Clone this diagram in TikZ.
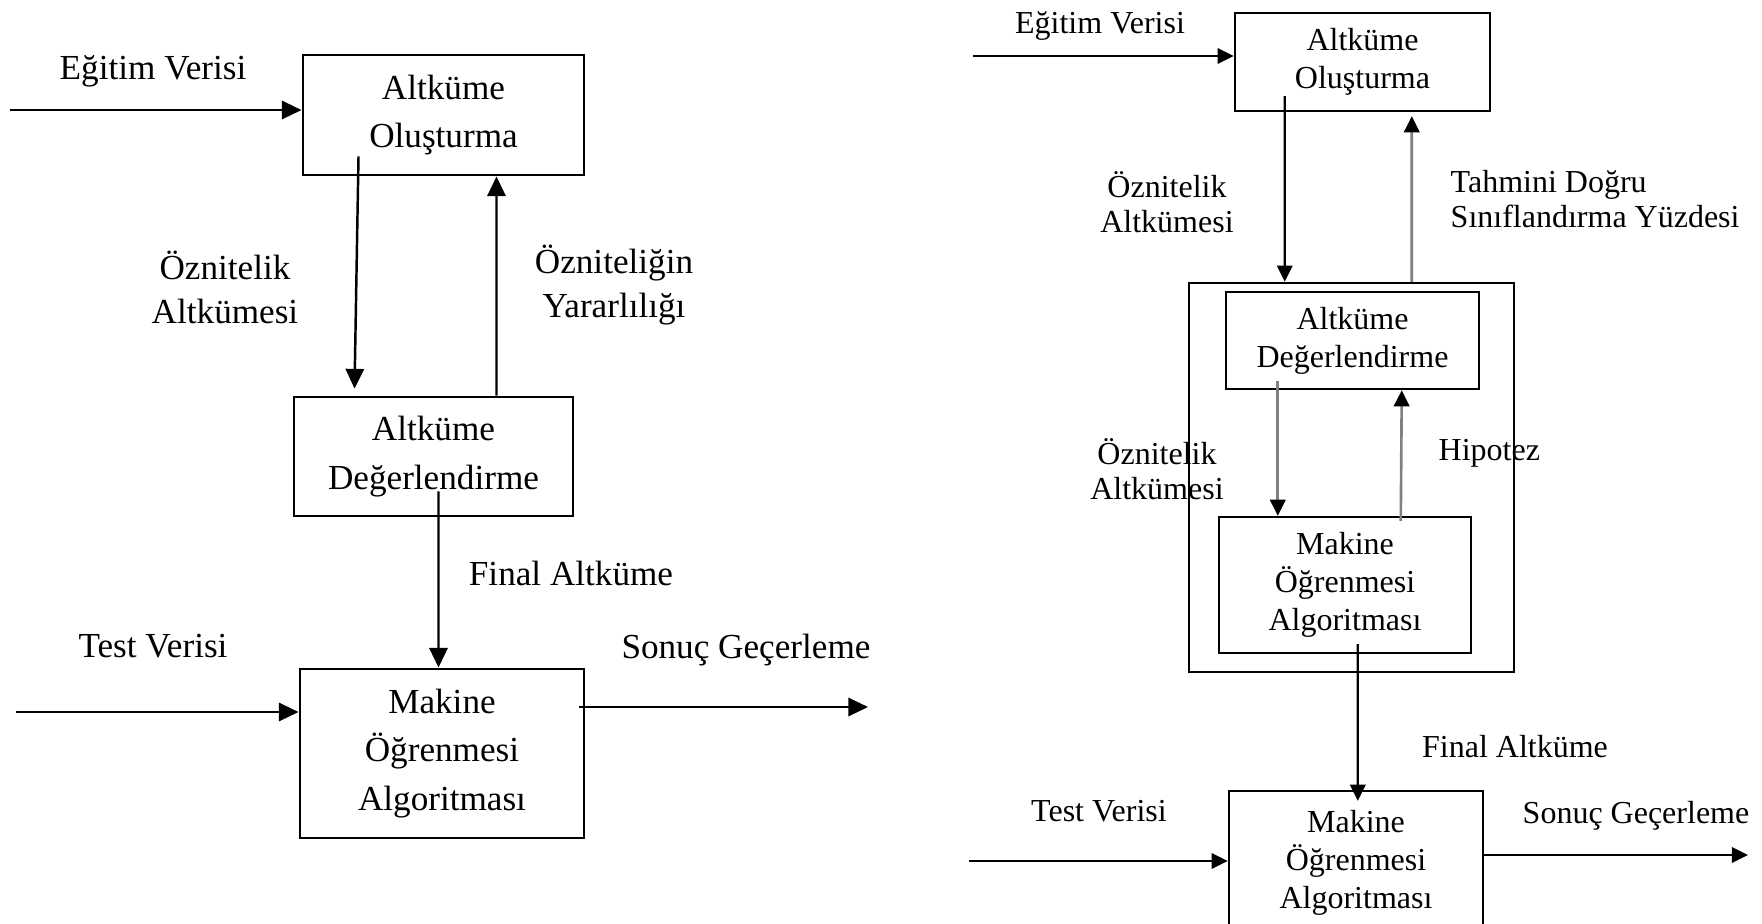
\documentclass[tikz,border=0pt]{standalone}
\usepackage{fontspec}
\setmainfont{Liberation Serif}
\usetikzlibrary{arrows.meta,calc}

\newcommand{\solyazi}{\fontsize{10}{13.7}\selectfont}
\newcommand{\solet}{\fontsize{10}{12.5}\selectfont}
\newcommand{\sagyazi}{\fontsize{9.1}{10.8}\selectfont}
\newcommand{\saget}{\fontsize{9.1}{10}\selectfont}

\begin{document}
\begin{tikzpicture}[x=0.01cm,y=-0.01cm,
    solkutu/.style={draw,line width=.8pt,font=\solyazi,align=center,inner sep=0pt},
    sagkutu/.style={draw,line width=.65pt,font=\sagyazi,align=center,inner sep=0pt},
    soletiket/.style={font=\solet,align=center,inner sep=0pt},
    sagetiket/.style={font=\saget,align=center,inner sep=0pt},
    solok/.style={line width=.7pt,-{Triangle[length=5.6pt,width=5.2pt]}},
    sagok/.style={line width=.6pt,-{Triangle[length=4.6pt,width=4.4pt]}},
    griok/.style={line width=.75pt,draw=black!50,-{Triangle[length=4.6pt,width=4.4pt,color=black]}}]
    \useasboundingbox (0,0) rectangle (1762,923);

    % sol
    \node[solkutu,minimum width=2.81cm,minimum height=1.2cm] (olusL) at (443.5,115) {Altküme\\Oluşturma};
    \node[solkutu,minimum width=2.79cm,minimum height=1.19cm] (degL) at (433.5,456.5) {Altküme\\Değerlendirme};
    \node[solkutu,minimum width=2.84cm,minimum height=1.69cm] (makL) at (442,753.5) {Makine\\Öğrenmesi\\Algoritması};

    \node[soletiket,anchor=base] (egitimL) at (153,79) {Eğitim Verisi};
    \node[soletiket] (oznL) at (225,287.5) {Öznitelik\\Altkümesi};
    \node[soletiket] (yararL) at (614,285) {Özniteliğin\\Yararlılığı};
    \node[soletiket,anchor=base] (finalL) at (571,585) {Final Altküme};
    \node[soletiket,anchor=base] (testL) at (153,657) {Test Verisi};
    \node[soletiket,anchor=base] (sonucL) at (746,658) {Sonuç Geçerleme};

    \coordinate (girisL1) at (10,110);
    \coordinate (girisL2) at (16,712);
    \coordinate (cikisL) at (868,707);
    \draw[solok] (girisL1) -- (girisL1 -| olusL.west);
    \draw[solok] ($(olusL.south west)+(57,-20)$) -- ($(degL.north west)+(62,-7)$);
    \draw[solok] ($(degL.north west)+(204,0)$) -- ($(olusL.south west)+(195,0)$);
    \draw[solok] ($(degL.south west)+(146,-26)$) -- ($(makL.north west)+(140,0)$);
    \draw[solok] (girisL2) -- (girisL2 -| makL.west);
    \draw[solok] ($(cikisL -| makL.east)+(-6,0)$) -- (cikisL);

    % sag
    \node[sagkutu,minimum width=2.55cm,minimum height=.98cm] (olusR) at (1362.5,62) {Altküme\\Oluşturma};
    \node[sagkutu,minimum width=3.25cm,minimum height=3.89cm] (cerceveR) at (1351.5,477.5) {};
    \node[sagkutu,minimum width=2.53cm,minimum height=.97cm] (degR) at (1352.5,340.5) {Altküme\\Değerlendirme};
    \node[sagkutu,minimum width=2.52cm,minimum height=1.36cm] (makIR) at (1345,585) {Makine\\Öğrenmesi\\Algoritması};
    \node[sagkutu,minimum width=2.54cm,minimum height=1.44cm] (makR) at (1356,863) {Makine\\Öğrenmesi\\Algoritması};

    \node[sagetiket,anchor=base] (egitimR) at (1100,33) {Eğitim Verisi};
    \node[sagetiket] (oznR) at (1167,202) {Öznitelik\\Altkümesi};
    \node[sagetiket,align=left,anchor=west] (tahminR) at (1450,199) {Tahmini Doğru\\Sınıflandırma Yüzdesi};
    \node[sagetiket] (oznIR) at (1157,469) {Öznitelik\\Altkümesi};
    \node[sagetiket,anchor=base west] (hipR) at (1438,460) {Hipotez};
    \node[sagetiket,anchor=base] (finalR) at (1515,757) {Final Altküme};
    \node[sagetiket,anchor=base] (testR) at (1099,821) {Test Verisi};
    \node[sagetiket,anchor=base] (sonucR) at (1636,823) {Sonuç Geçerleme};

    \coordinate (girisR1) at (973,56);
    \coordinate (girisR2) at (969,861);
    \coordinate (cikisR) at (1748,855);
    \draw[sagok] (girisR1) -- (girisR1 -| olusR.west);
    \draw[sagok] ($(olusR.south west)+(51,-16)$) -- ($(cerceveR.north west)+(97,0)$);
    \draw[griok] ($(cerceveR.north west)+(224,0)$) -- ($(olusR.south west)+(178,4)$);
    \draw[griok] ($(degR.south west)+(53,-9)$) -- ($(makIR.north west)+(60,0)$);
    \draw[griok] ($(makIR.north west)+(183,5)$) -- ($(degR.south west)+(177,0)$);
    \draw[sagok] ($(makIR.south west)+(140,-10)$) -- ($(makR.north west)+(130,11)$);
    \draw[sagok] (girisR2) -- (girisR2 -| makR.west);
    \draw[sagok] (cikisR -| makR.east) -- (cikisR);
\end{tikzpicture}
\end{document}
